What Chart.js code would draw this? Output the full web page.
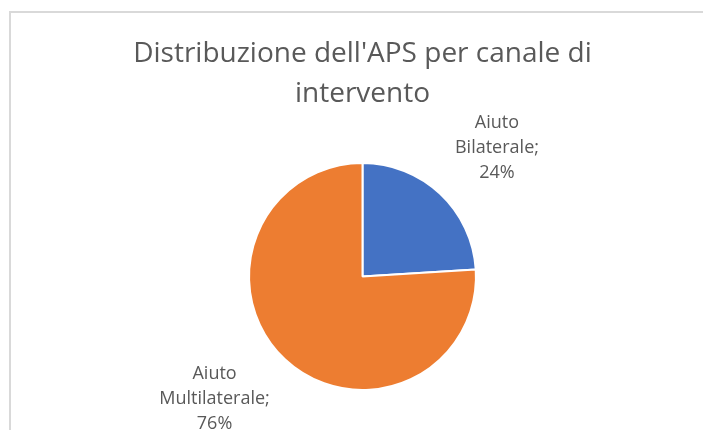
<!DOCTYPE html>
<html>
<head>
<meta charset="utf-8">
<script src="https://cdn.jsdelivr.net/npm/chart.js@4/dist/chart.umd.min.js"></script>
<style>
  html, body { margin: 0; padding: 0; background: #fff; }
  #wrap { position: relative; width: 703px; height: 430px; }
</style>
</head>
<body>
<div id="wrap"><canvas id="c" width="703" height="430"></canvas></div>
<script>
const titleLines = ["Distribuzione dell'APS per canale di", "intervento"];
const categories = ["Aiuto Bilaterale", "Aiuto Multilaterale"];
const labelLines = [["Aiuto", "Bilaterale;"], ["Aiuto", "Multilaterale;"]];
const shares = [24, 76];
const colors = ["#4472C4", "#ED7D31"];

// label placement style: distance from centre (px) and angle tweak (deg)
const labelStyle = [{ dist: 186, tweak: 3.1 }, { dist: 192, tweak: 7.2 }];

const frame = {
  id: 'frame',
  beforeDraw(chart) {
    const ctx = chart.ctx;
    ctx.save();
    ctx.fillStyle = '#fff';
    ctx.fillRect(0, 0, chart.width, chart.height);
    ctx.fillStyle = '#d9d9d9';
    ctx.fillRect(9, 11, chart.width - 9, 2);
    ctx.fillRect(9, 11, 2, chart.height - 11);
    ctx.restore();
  }
};

const sliceLabels = {
  id: 'sliceLabels',
  afterDatasetsDraw(chart) {
    const ctx = chart.ctx;
    const meta = chart.getDatasetMeta(0);
    ctx.save();
    ctx.font = '18px "Open Sans", sans-serif';
    ctx.fillStyle = '#595959';
    ctx.textAlign = 'center';
    ctx.textBaseline = 'middle';
    meta.data.forEach((arc, i) => {
      const p = arc.getProps(['x', 'y', 'startAngle', 'endAngle'], true);
      const mid = (p.startAngle + p.endAngle) / 2 + labelStyle[i].tweak * Math.PI / 180;
      const cx = p.x + Math.cos(mid) * labelStyle[i].dist;
      const cy = p.y + Math.sin(mid) * labelStyle[i].dist;
      const lines = labelLines[i].concat([shares[i] + '%']);
      const lh = 25;
      lines.forEach((t, k) => {
        ctx.fillText(t, cx, cy + (k - (lines.length - 1) / 2) * lh);
      });
    });
    ctx.restore();
  }
};

new Chart(document.getElementById('c'), {
  type: 'pie',
  data: {
    labels: categories,
    datasets: [{
      data: shares,
      backgroundColor: colors,
      borderColor: '#ffffff',
      borderWidth: 2
    }]
  },
  options: {
    responsive: false,
    animation: false,
    layout: { padding: { left: 22, right: 0, top: 12, bottom: 39 } },
    plugins: {
      legend: { display: false },
      tooltip: { enabled: false },
      title: {
        display: true,
        text: titleLines,
        color: '#595959',
        font: { family: '"Open Sans", sans-serif', size: 28, weight: 'normal', lineHeight: 1.43 },
        padding: { top: 22, bottom: 48 }
      }
    }
  },
  plugins: [frame, sliceLabels]
});
</script>
</body>
</html>
